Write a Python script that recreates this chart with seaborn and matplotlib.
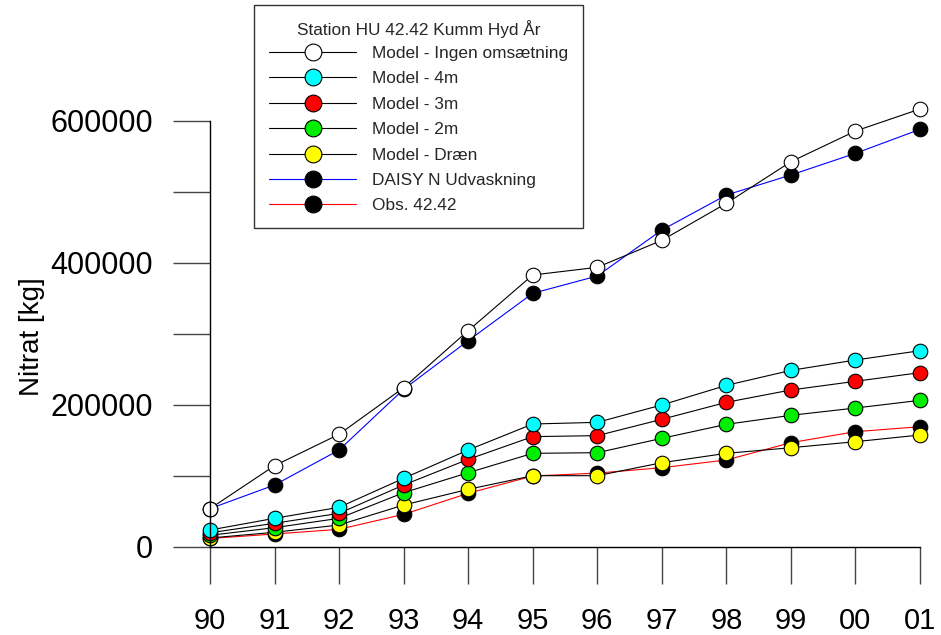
import matplotlib
matplotlib.use("Agg")
import matplotlib.pyplot as plt
import seaborn as sns
import numpy as np
from matplotlib.ticker import MultipleLocator, FuncFormatter

years = [1990, 1991, 1992, 1993, 1994, 1995, 1996, 1997, 1998, 1999, 2000, 2001]
year_labels = ["90", "91", "92", "93", "94", "95", "96", "97", "98", "99", "00", "01"]

ingen = [54000, 114500, 158700, 224300, 304600, 383000, 393800, 431800, 483900, 542500, 585700, 616700]
m4 = [23900, 40400, 55900, 96700, 136600, 173200, 175500, 200000, 227600, 248700, 263300, 276400]
m3 = [20000, 33400, 47400, 87300, 123400, 155400, 156800, 179800, 203700, 221100, 233300, 245500]
m2 = [16500, 27200, 40400, 76500, 104600, 131900, 132800, 153000, 172700, 185400, 195700, 206500]
draen = [12700, 20700, 31000, 59100, 81200, 100400, 100400, 118700, 131900, 139800, 148300, 157700]
daisy = [54000, 87300, 136600, 222000, 290500, 357200, 381600, 446300, 495600, 523800, 554300, 588100]
obs = [12000, 18300, 24900, 46000, 75600, 100000, 104000, 111700, 122500, 146900, 162400, 169400]

legend_title = "Station HU 42.42 Kumm Hyd År"
labels = ["Model - Ingen omsætning", "Model - 4m", "Model - 3m", "Model - 2m",
          "Model - Dræn", "DAISY N Udvaskning", "Obs. 42.42"]

sns.set_theme(style="ticks")
plt.rcParams['font.family'] = ['Liberation Sans', 'DejaVu Sans']

fig = plt.figure(figsize=(9.41, 6.35), dpi=100)
ax = fig.add_axes([210/941, 1-547/635, 710/941, 447/635])

# draw order: observations first, models last
series = [
    ("obs", obs, "red", "black"),
    ("daisy", daisy, "blue", "black"),
    ("draen", draen, "black", "yellow"),
    ("m2", m2, "black", "#00ee00"),
    ("m3", m3, "black", "red"),
    ("m4", m4, "black", "cyan"),
    ("ingen", ingen, "black", "white"),
]
handles = {}
for name, vals, lc, fc in series:
    sns.lineplot(x=years, y=vals, ax=ax, color=lc, linewidth=0.8, marker="o",
                 markersize=10.5, markerfacecolor=fc, markeredgecolor="black",
                 markeredgewidth=0.8, legend=False, clip_on=False)
    handles[name] = ax.lines[-1]

order = ["ingen", "m4", "m3", "m2", "draen", "daisy", "obs"]
leg = ax.legend([handles[k] for k in order], labels, title=legend_title,
                loc="upper left", bbox_to_anchor=(254/941, 1-5/635),
                bbox_transform=fig.transFigure, borderaxespad=0,
                fontsize=12.4, title_fontsize=12.4, handlelength=5.1,
                handletextpad=0.9, labelspacing=0.6, borderpad=0.85,
                markerscale=1.15, frameon=True, fancybox=False)
leg.get_frame().set_edgecolor("black")
leg.get_frame().set_linewidth(1.0)
leg._legend_box.sep = 6

ax.set_xlim(1990, 2001)
ax.set_ylim(0, 629400)
ax.set_xticks(years)
ax.set_xticklabels(year_labels)
ax.yaxis.set_major_locator(MultipleLocator(100000))
ax.yaxis.set_major_formatter(FuncFormatter(lambda v, p: f"{int(round(v))}" if int(round(v)) % 200000 == 0 else ""))

for s in ["top", "right"]:
    ax.spines[s].set_visible(False)
ax.spines["left"].set_bounds(0, 600000)
ax.spines["left"].set_color("black")
ax.spines["bottom"].set_color("black")
ax.spines["left"].set_linewidth(1.0)
ax.spines["bottom"].set_linewidth(1.0)

ax.tick_params(axis="y", length=26.5, width=1.0, color="#444444", pad=14.5, labelsize=22, labelcolor="black")
ax.tick_params(axis="x", length=26.5, width=1.0, color="#444444", pad=16.5, labelsize=21, labelcolor="black")

ax.set_xlabel("")
ax.set_ylabel("Nitrat [kg]", fontsize=20, color="black")
ax.yaxis.set_label_coords((45-210)/710, (547-337)/447)

fig.savefig("out.png", dpi=100)
